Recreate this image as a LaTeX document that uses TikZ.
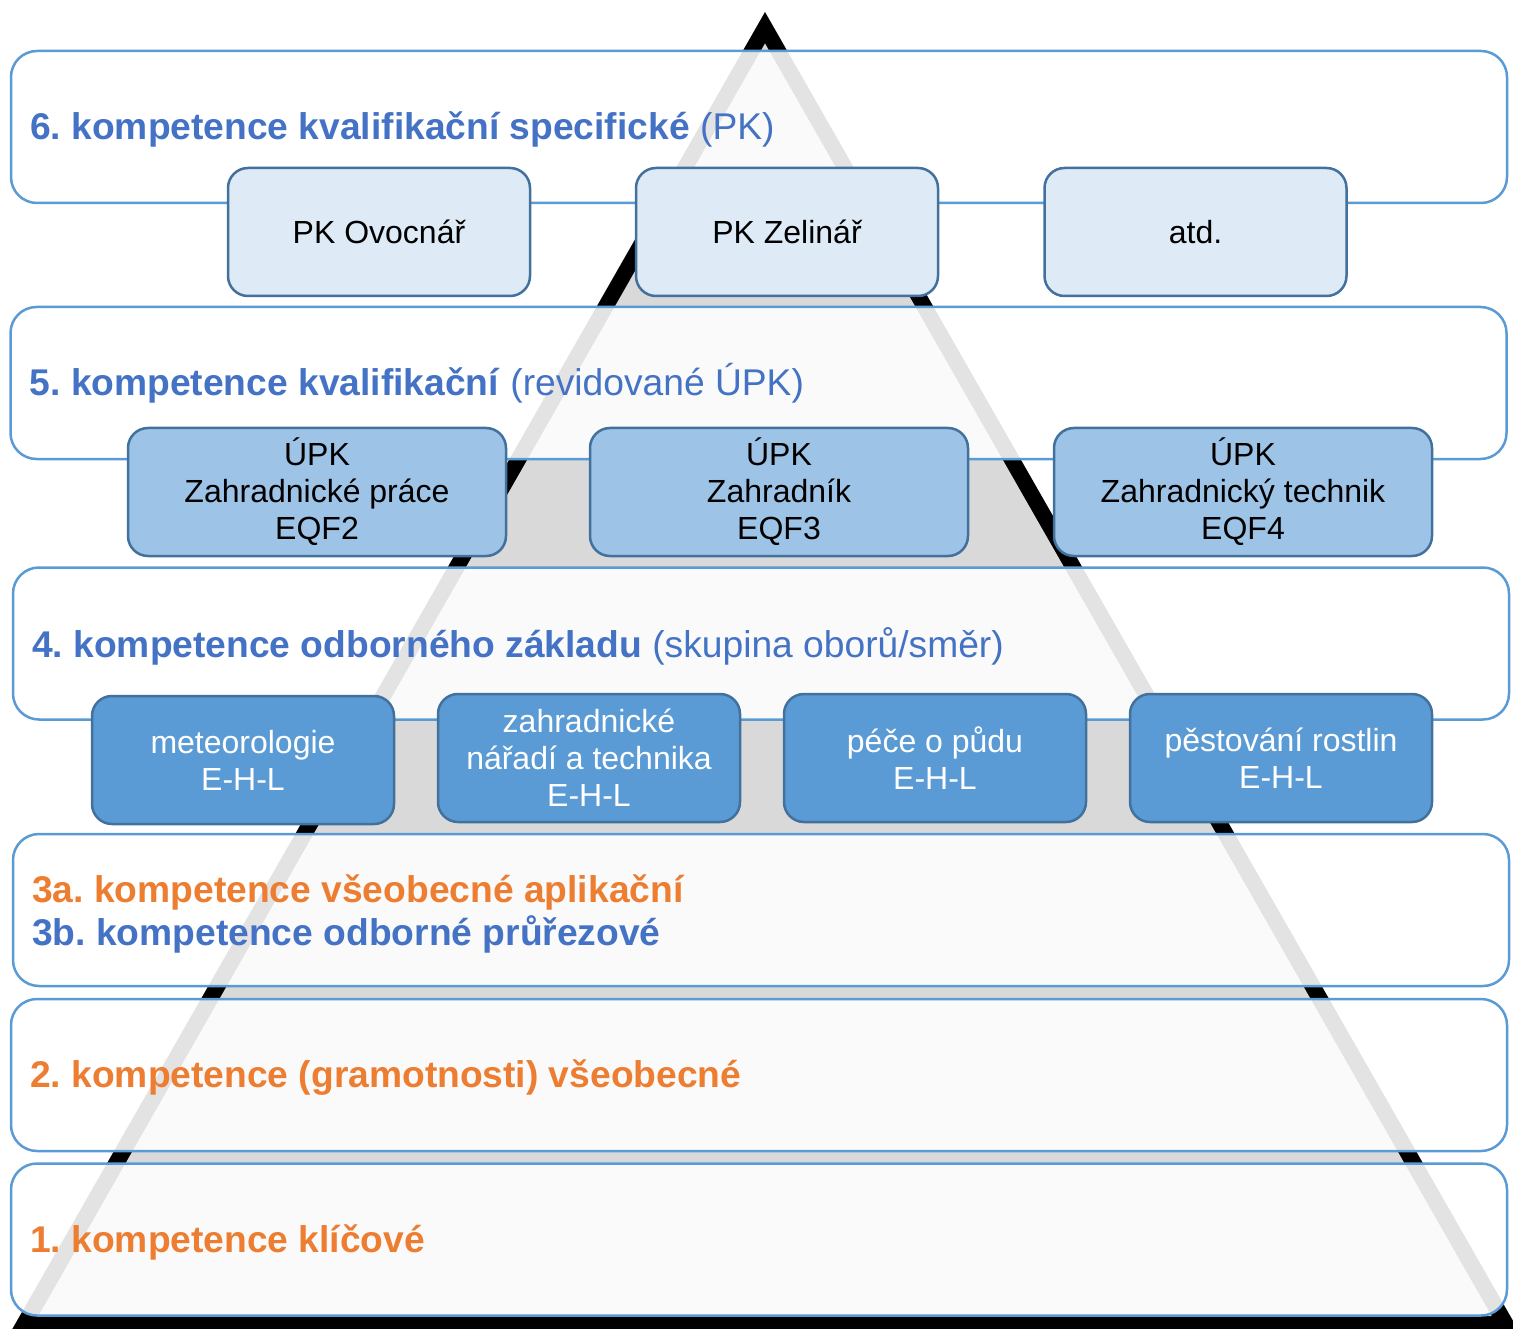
\documentclass[tikz,border=0pt]{standalone}
\usepackage{fontspec}
\setmainfont{Liberation Sans}
\frenchspacing
\definecolor{tblue}{HTML}{4472C4}
\definecolor{torange}{HTML}{ED7D31}
\definecolor{lb}{HTML}{5B9BD5}
\definecolor{dk}{HTML}{41719C}
\definecolor{fsix}{HTML}{DEEBF7}
\definecolor{ffive}{HTML}{9DC3E6}
\definecolor{ffour}{HTML}{5B9BD5}
\definecolor{pgray}{HTML}{D9D9D9}
\begin{document}
\begin{tikzpicture}[x=1pt,y=-1pt,
  layer/.style={draw=lb, line width=2.5pt, fill=white, fill opacity=0.89, draw opacity=1,
    rounded corners=26pt, minimum width=1496pt, minimum height=152pt, inner sep=0pt, outer sep=0pt},
  sbox/.style={draw=dk, line width=2.5pt, rounded corners=20pt, inner sep=0pt, outer sep=0pt,
    minimum height=128pt, align=center, font=\fontsize{32}{37}\selectfont\frenchspacing},
  pkbox/.style={sbox, fill=fsix, minimum width=302pt, text=black},
  upkbox/.style={sbox, fill=ffive, minimum width=378pt, text=black},
  odbox/.style={sbox, fill=ffour, minimum width=302pt, text=white},
  title/.style={anchor=base west, inner sep=0pt, font=\fontsize{37.2}{44}\selectfont\frenchspacing},
  tb/.style={title, text=tblue},
  to/.style={title, text=torange}
]
\useasboundingbox (0,0) rectangle (1513,1329);
\clip (0,0) rectangle (1513,1329);
% pyramid
\fill[black] (765,12) -- (6,1340) -- (1524,1340) -- cycle;
\fill[pgray] (765,43.5) -- (38.4,1316) -- (1491.6,1316) -- cycle;
% layers
\node[layer] (L6) at (759,127) {};
\node[layer] (L5) at (758.5,383) {};
\node[layer] (L4) at (761,643.5) {};
\node[layer] (L3) at (761,910) {};
\node[layer] (L2) at (759,1075) {};
\node[layer] (L1) at (759,1239.5) {};
% titles
\node[tb] (T6) at ([xshift=19pt,yshift=-13pt]L6.west) {\textbf{6. kompetence kvalifikační specifické} (PK)};
\node[tb] (T5) at ([xshift=19pt,yshift=-13pt]L5.west) {\textbf{5. kompetence kvalifikační} (revidované ÚPK)};
\node[tb] (T4) at ([xshift=19pt,yshift=-13.5pt]L4.west) {\textbf{4. kompetence odborného základu} (skupina oborů/směr)};
\node[to] (T3a) at ([xshift=19pt,yshift=8pt]L3.west) {\textbf{3a. kompetence všeobecné aplikační}};
\node[tb] (T3b) at ([xshift=19pt,yshift=-35pt]L3.west) {\textbf{3b. kompetence odborné průřezové}};
\node[to] (T2) at ([xshift=19pt,yshift=-12pt]L2.west) {\textbf{2. kompetence (gramotnosti) všeobecné}};
\node[to] (T1) at ([xshift=19pt,yshift=-12.5pt]L1.west) {\textbf{1. kompetence klíčové}};
% row 6
\node[pkbox] (P1) at (379,232) {PK Ovocnář};
\node[pkbox] (P2) at (787,232) {PK Zelinář};
\node[pkbox] (P3) at (1195.5,232) {atd.};
% row 5
\node[upkbox] (U1) at (317,492) {ÚPK\\Zahradnické práce\\EQF2};
\node[upkbox] (U2) at (779,492) {ÚPK\\Zahradník\\EQF3};
\node[upkbox] (U3) at (1243,492) {ÚPK\\Zahradnický technik\\EQF4};
% row 4
\node[odbox] (O1) at (243,760) {meteorologie\\E-H-L};
\node[odbox] (O2) at (589,758) {zahradnické\\nářadí a technika\\E-H-L};
\node[odbox] (O3) at (935,758) {péče o půdu\\E-H-L};
\node[odbox] (O4) at (1281,758) {pěstování rostlin\\E-H-L};
\end{tikzpicture}
\end{document}
